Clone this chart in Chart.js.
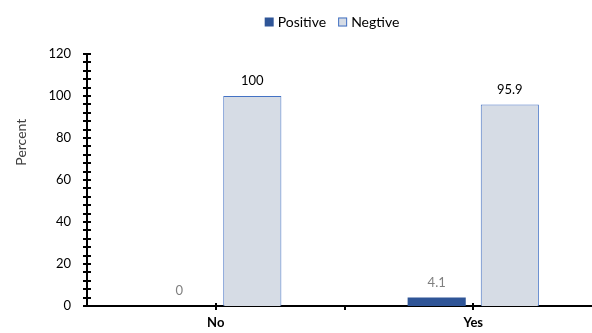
<!DOCTYPE html>
<html>
<head>
<meta charset="utf-8">
<script src="https://cdn.jsdelivr.net/npm/chart.js@4/dist/chart.umd.min.js"></script>
<style>
  html, body { margin: 0; padding: 0; overflow: hidden; background: #ffffff; }
  #wrap { width: 602px; height: 333px; position: relative; }
</style>
</head>
<body>
<div id="wrap"><canvas id="chart"></canvas></div>
<script>
// Test result by group
const categories = ['No', 'Yes'];
const seriesNames = ['Positive', 'Negtive'];
const positiveValues = [0, 4.1];
const negativeValues = [100, 95.9];
const yTickLabels = [0, 20, 40, 60, 80, 100, 120];
const yAxisTitle = 'Percent';

const FONT = 'Lato, "Open Sans", sans-serif';

// Value labels above each bar
const barLabels = {
  id: 'barLabels',
  afterDatasetsDraw(chart) {
    const ctx = chart.ctx;
    ctx.save();
    ctx.font = '13px ' + FONT;
    ctx.textAlign = 'center';
    ctx.textBaseline = 'middle';
    chart.data.datasets.forEach((ds, di) => {
      const meta = chart.getDatasetMeta(di);
      meta.data.forEach((bar, i) => {
        ctx.fillStyle = ds.labelColor;
        ctx.fillText(String(ds.data[i]), bar.x, bar.y - 15);
      });
    });
    ctx.restore();
  }
};

// Tick marks crossing the axis lines, plus the value-axis title
const axisTicks = {
  id: 'axisTicks',
  afterDraw(chart) {
    const ctx = chart.ctx;
    const ys = chart.scales.y, xs = chart.scales.x;
    const x0 = chart.chartArea.left;
    const y0 = chart.chartArea.bottom;
    ctx.save();
    ctx.strokeStyle = '#000000';
    ctx.lineWidth = 2;
    ys.ticks.forEach(t => {
      const y = Math.round(ys.getPixelForValue(t.value));
      ctx.beginPath();
      ctx.moveTo(x0 - 4, y);
      ctx.lineTo(x0 + 4, y);
      ctx.stroke();
    });
    categories.forEach((c, i) => {
      const xc = Math.round(xs.getPixelForValue(i));
      ctx.beginPath();
      ctx.moveTo(xc, y0 - 3);
      ctx.lineTo(xc, y0 + 4);
      ctx.stroke();
      const xb = Math.round(xs.getPixelForValue(i + 0.5));
      ctx.beginPath();
      ctx.moveTo(xb, y0);
      ctx.lineTo(xb, y0 + 4);
      ctx.stroke();
    });
    // rotated axis title beside the value axis
    ctx.translate(21, ys.getPixelForValue(78));
    ctx.rotate(-Math.PI / 2);
    ctx.font = '14px ' + FONT;
    ctx.fillStyle = '#404040';
    ctx.textAlign = 'center';
    ctx.textBaseline = 'middle';
    ctx.fillText(yAxisTitle, 0, 0);
    ctx.restore();
  }
};

// Legend row drawn from the dataset styles
const legendRow = {
  id: 'legendRow',
  afterDraw(chart) {
    const ctx = chart.ctx;
    const box = 9, gap = 4, spacing = 12;
    ctx.save();
    ctx.font = '14px ' + FONT;
    ctx.textBaseline = 'middle';
    const items = chart.data.datasets.map(ds => ({
      text: ds.label, fill: ds.backgroundColor, stroke: ds.borderColor, bw: ds.borderWidth,
      w: box + gap + ctx.measureText(ds.label).width
    }));
    const total = items.reduce((s, it) => s + it.w, 0) + spacing * (items.length - 1);
    let x = 332 - total / 2;
    const yc = 22;
    items.forEach(it => {
      ctx.fillStyle = it.fill;
      ctx.fillRect(x, yc - box / 2, box, box);
      if (it.bw) {
        ctx.strokeStyle = it.stroke;
        ctx.lineWidth = 1;
        ctx.strokeRect(x + 0.5, yc - box / 2 + 0.5, box - 1, box - 1);
      }
      ctx.fillStyle = '#000000';
      ctx.textAlign = 'left';
      ctx.fillText(it.text, x + box + gap, yc + 0.5);
      x += it.w + spacing;
    });
    ctx.restore();
  }
};

new Chart(document.getElementById('chart'), {
  type: 'bar',
  data: {
    labels: categories,
    datasets: [
      {
        label: seriesNames[0],
        data: positiveValues,
        backgroundColor: '#2f5597',
        borderColor: '#2f5597',
        borderWidth: 0,
        labelColor: '#7f7f7f'
      },
      {
        label: seriesNames[1],
        data: negativeValues,
        backgroundColor: '#d6dce5',
        borderColor: '#4472c4',
        borderWidth: 1,
        labelColor: '#000000'
      }
    ]
  },
  options: {
    responsive: true,
    maintainAspectRatio: false,
    animation: false,
    categoryPercentage: 0.568,
    barPercentage: 0.795,
    layout: { padding: { top: 54, right: 0, bottom: 0, left: 0 } },
    plugins: {
      legend: { display: false },
      tooltip: { enabled: false }
    },
    scales: {
      x: {
        offset: true,
        grid: { display: false, drawTicks: false },
        border: { display: true, color: '#000000', width: 2 },
        ticks: { color: '#000000', padding: 9, font: { family: FONT, size: 13, weight: 'bold' } },
        afterFit(scale) { scale.height = 27; }
      },
      y: {
        min: 0,
        max: 120,
        grid: { display: false, drawTicks: false },
        border: { display: true, color: '#000000', width: 2 },
        ticks: {
          stepSize: 4,
          autoSkip: false,
          padding: 16,
          color: '#000000',
          font: { family: FONT, size: 13 },
          callback: v => (yTickLabels.includes(v) ? String(v) : '')
        },
        afterFit(scale) { scale.width = 87; }
      }
    }
  },
  plugins: [barLabels, axisTicks, legendRow]
});
</script>
</body>
</html>
